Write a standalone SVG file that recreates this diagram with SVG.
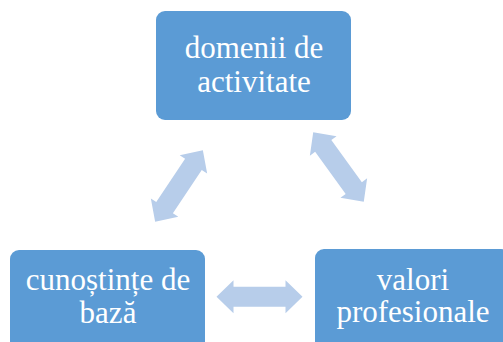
<svg xmlns="http://www.w3.org/2000/svg" width="503" height="342" viewBox="0 0 503 342">
<style>
.box{fill:#5B9BD5;}
.lbl{fill:#FFFFFF;font-family:'Liberation Serif','Times New Roman',serif;font-size:31px;text-anchor:middle;}
.arr{fill:#B7CDEA;}
</style>
<defs>
<path id="dbl" d="M -43,0 L -26,-16.5 L -26,-10 L 26,-10 L 26,-16.5 L 43,0 L 26,16.5 L 26,10 L -26,10 L -26,16.5 Z"/>
</defs>
<rect width="503" height="342" fill="#FFFFFF"/>
<g id="connectors">
<use href="#dbl" class="arr" transform="translate(179,186) rotate(-56.3)"/>
<use href="#dbl" class="arr" transform="translate(338.5,167) rotate(54)"/>
<use href="#dbl" class="arr" transform="translate(259.5,296.7)"/>
</g>
<g id="node-domenii">
<rect class="box" x="156" y="11" width="195" height="109" rx="9"/>
<text class="lbl" x="254" y="58">domenii de</text>
<text class="lbl" x="254" y="92">activitate</text>
</g>
<g id="node-cunostinte">
<rect class="box" x="10" y="250" width="195" height="109" rx="9"/>
<text class="lbl" x="108" y="290">cunoștințe de</text>
<text class="lbl" x="108" y="323">bază</text>
</g>
<g id="node-valori">
<rect class="box" x="315" y="249" width="195" height="109" rx="9"/>
<text class="lbl" x="413" y="290">valori</text>
<text class="lbl" x="413" y="322">profesionale</text>
</g>
</svg>
